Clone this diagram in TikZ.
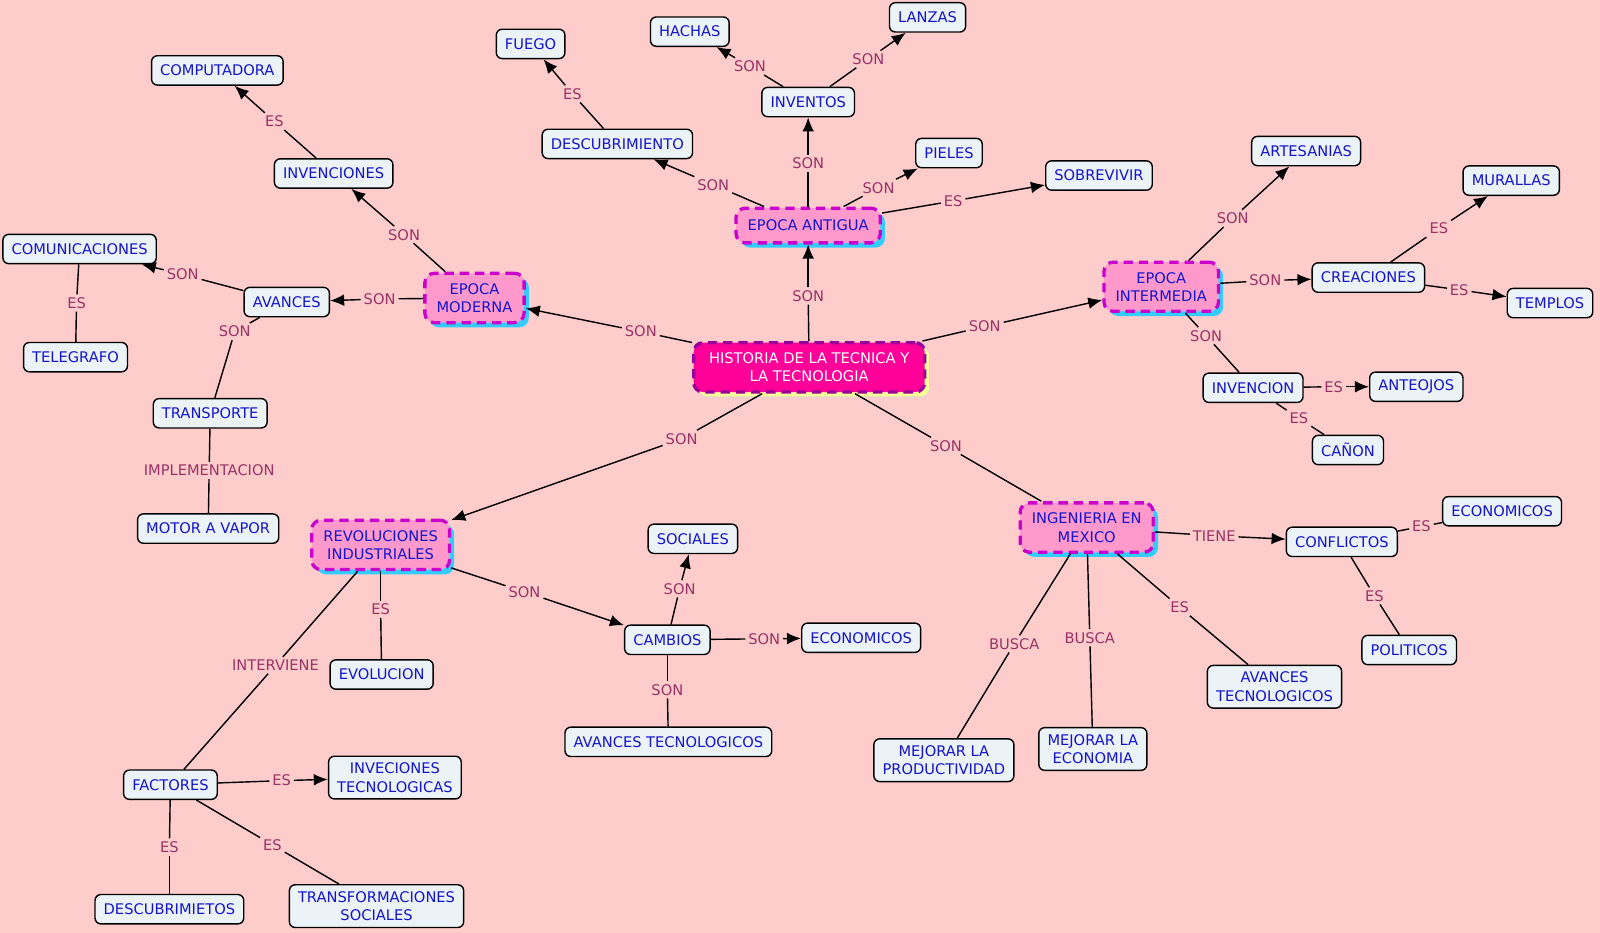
\documentclass[tikz,border=0pt]{standalone}
\usepackage{fontspec}
\setmainfont{DejaVu Sans}
\usepackage{xcolor}
\usepackage{tikz}
\usetikzlibrary{shapes,positioning,shadows,arrows.meta}
\definecolor{fondo}{RGB}{255,204,204}
\definecolor{caja}{RGB}{236,243,247}
\definecolor{azul}{RGB}{20,20,204}
\definecolor{enlace}{RGB}{153,51,102}
\definecolor{rosa}{RGB}{255,153,204}
\definecolor{borde}{RGB}{204,0,204}
\definecolor{celeste}{RGB}{51,204,255}
\definecolor{fucsia}{RGB}{255,0,153}
\definecolor{morado}{RGB}{153,0,153}
\definecolor{amarillo}{RGB}{255,255,153}
\tikzset{conc/.style={rectangle,rounded corners=5pt,draw=black,line width=1.2pt,fill=caja,text=azul,align=center,inner xsep=0.26cm,inner ysep=0.2cm,minimum height=0.88cm,font=\fontsize{12.5}{15.6}\selectfont}}
\tikzset{epoca/.style={conc,draw=borde,fill=rosa,line width=2.8pt,dash pattern=on 8pt off 5pt,rounded corners=8pt,inner xsep=0.35cm,inner ysep=0.3cm,minimum height=1.04cm,drop shadow={shadow xshift=4pt,shadow yshift=-4pt,fill=celeste,opacity=1}}}
\tikzset{raiz/.style={epoca,draw=morado,fill=fucsia,text=white,inner xsep=0.46cm,drop shadow={shadow xshift=4pt,shadow yshift=-4pt,fill=amarillo,opacity=1}}}
\tikzset{lnk/.style={text=enlace,inner sep=2pt,font=\fontsize{12.5}{15.6}\selectfont}}

\begin{document}
\begin{tikzpicture}[>={Latex[length=12pt,width=10pt]},x=0.0306cm,y=-0.0306cm,line width=1.2pt]
    \fill[fondo] (0,0) rectangle (1568,914);

    % conceptos principales
    \node[raiz] (hist)at (793,360) {HISTORIA DE LA TECNICA Y\\LA TECNOLOGIA};
    \node[epoca] (ant)at (792,221) {EPOCA ANTIGUA};
    \node[epoca] (mod)at (465,292) {EPOCA\\MODERNA};
    \node[epoca] (inter)at (1138,281) {EPOCA\\INTERMEDIA};
    \node[epoca] (rev)at (373,534) {REVOLUCIONES\\INDUSTRIALES};
    \node[epoca] (ing)at (1065,517) {INGENIERIA EN\\MEXICO};

    % epoca antigua
    \node[conc] (fuego)at (520,43) {FUEGO};
    \node[conc] (hachas)at (676,31) {HACHAS};
    \node[conc] (lanzas)at (909,17) {LANZAS};
    \node[conc] (inventos)at (792,100) {INVENTOS};
    \node[conc] (desc)at (605,141) {DESCUBRIMIENTO};
    \node[conc] (pieles)at (930,150) {PIELES};
    \node[conc] (sobr)at (1077,172) {SOBREVIVIR};

    % epoca moderna
    \node[conc] (comp)at (213,69) {COMPUTADORA};
    \node[conc] (invenc)at (327,170) {INVENCIONES};
    \node[conc] (comun)at (78,244) {COMUNICACIONES};
    \node[conc] (avan)at (281,296) {AVANCES};
    \node[conc] (teleg)at (74,350) {TELEGRAFO};
    \node[conc] (transp)at (206,405) {TRANSPORTE};
    \node[conc] (motor)at (204,518) {MOTOR A VAPOR};

    % epoca intermedia
    \node[conc] (artes)at (1280,148) {ARTESANIAS};
    \node[conc] (mural)at (1481,177) {MURALLAS};
    \node[conc] (creac)at (1341,272) {CREACIONES};
    \node[conc] (templ)at (1519,297) {TEMPLOS};
    \node[conc] (invcn)at (1228,380) {INVENCION};
    \node[conc] (anteo)at (1388,379) {ANTEOJOS};
    \node[conc] (canon)at (1321,441) {CAÑON};

    % ingenieria en mexico
    \node[conc] (econ)at (1472,501) {ECONOMICOS};
    \node[conc] (confl)at (1315,531) {CONFLICTOS};
    \node[conc] (polit)at (1381,637) {POLITICOS};
    \node[conc] (avtec)at (1249,673) {AVANCES\\TECNOLOGICOS};
    \node[conc] (mprod)at (925,745) {MEJORAR LA\\PRODUCTIVIDAD};
    \node[conc] (mecon)at (1071,734) {MEJORAR LA\\ECONOMIA};

    % revoluciones industriales
    \node[conc] (soc)at (679,528) {SOCIALES};
    \node[conc] (camb)at (654,627) {CAMBIOS};
    \node[conc] (econ2)at (844,625) {ECONOMICOS};
    \node[conc] (avtec2)at (655,727) {AVANCES TECNOLOGICOS};
    \node[conc] (evol)at (374,661) {EVOLUCION};
    \node[conc] (fact)at (167,769) {FACTORES};
    \node[conc] (invtec)at (387,762) {INVECIONES\\TECNOLOGICAS};
    \node[conc] (descub)at (166,891) {DESCUBRIMIETOS};
    \node[conc] (transf)at (369,888) {TRANSFORMACIONES\\SOCIALES};

    % palabras de enlace
    \node[lnk] (l1)at (792,290) {SON};
    \node[lnk] (l2)at (628,325) {SON};
    \node[lnk] (l3)at (965,320) {SON};
    \node[lnk] (l4)at (668,430) {SON};
    \node[lnk] (l5)at (927,437) {SON};
    \node[lnk] (l6)at (792,160) {SON};
    \node[lnk] (l7)at (699,181) {SON};
    \node[lnk] (l8)at (861,184) {SON};
    \node[lnk] (l9)at (934,197) {ES};
    \node[lnk] (l10)at (735,65) {SON};
    \node[lnk] (l11)at (851,58) {SON};
    \node[lnk] (l12)at (561,92) {ES};
    \node[lnk] (l13)at (396,230) {SON};
    \node[lnk] (l14)at (372,293) {SON};
    \node[lnk] (l15)at (269,119) {ES};
    \node[lnk] (l16)at (179,269) {SON};
    \node[lnk] (l17)at (230,325) {SON};
    \node[lnk] (l18)at (75,297) {ES};
    \node[lnk] (l19)at (205,461) {IMPLEMENTACION};
    \node[lnk] (l20)at (1208,214) {SON};
    \node[lnk] (l21)at (1240,275) {SON};
    \node[lnk] (l22)at (1182,329) {SON};
    \node[lnk] (l23)at (1410,224) {ES};
    \node[lnk] (l24)at (1430,284) {ES};
    \node[lnk] (l25)at (1307,379) {ES};
    \node[lnk] (l26)at (1273,410) {ES};
    \node[lnk] (l27)at (1190,525) {TIENE};
    \node[lnk] (l28)at (994,631) {BUSCA};
    \node[lnk] (l29)at (1068,625) {BUSCA};
    \node[lnk] (l30)at (1156,595) {ES};
    \node[lnk] (l31)at (1393,516) {ES};
    \node[lnk] (l32)at (1347,584) {ES};
    \node[lnk] (l33)at (514,580) {SON};
    \node[lnk] (l34)at (373,597) {ES};
    \node[lnk] (l35)at (270,652) {INTERVIENE};
    \node[lnk] (l36)at (666,577) {SON};
    \node[lnk] (l37)at (749,626) {SON};
    \node[lnk] (l38)at (654,676) {SON};
    \node[lnk] (l39)at (276,765) {ES};
    \node[lnk] (l40)at (166,830) {ES};
    \node[lnk] (l41)at (267,828) {ES};

    % conectores
    \draw [] (hist) to [] (l1);   \draw [->] (l1) to [] (ant);
    \draw [] (hist) to [] (l2);   \draw [->] (l2) to [] (mod);
    \draw [] (hist) to [] (l3);   \draw [->] (l3) to [] (inter);
    \draw [] (hist) to [] (l4);   \draw [->] (l4) to [] (rev);
    \draw [] (hist) to [] (l5);   \draw [] (l5) to [] (ing);

    \draw [] (ant) to [] (l6);    \draw [->] (l6) to [] (inventos);
    \draw [] (ant) to [] (l7);    \draw [->] (l7) to [] (desc);
    \draw [] (ant) to [] (l8);    \draw [->] (l8) to [] (pieles);
    \draw [] (ant) to [] (l9);    \draw [->] (l9) to [] (sobr);
    \draw [] (inventos) to [] (l10); \draw [->] (l10) to [] (hachas);
    \draw [] (inventos) to [] (l11); \draw [->] (l11) to [] (lanzas);
    \draw [] (desc) to [] (l12);  \draw [->] (l12) to [] (fuego);

    \draw [] (mod) to [] (l13);   \draw [->] (l13) to [] (invenc);
    \draw [] (mod) to [] (l14);   \draw [->] (l14) to [] (avan);
    \draw [] (invenc) to [] (l15); \draw [->] (l15) to [] (comp);
    \draw [] (avan) to [] (l16);  \draw [->] (l16) to [] (comun);
    \draw [] (avan) to [] (l17);  \draw [] (l17) to [] (transp);
    \draw [] (comun) to [] (l18); \draw [] (l18) to [] (teleg);
    \draw [] (transp) to [] (l19); \draw [] (l19) to [] (motor);

    \draw [] (inter) to [] (l20); \draw [->] (l20) to [] (artes);
    \draw [] (inter) to [] (l21); \draw [->] (l21) to [] (creac);
    \draw [] (inter) to [] (l22); \draw [] (l22) to [] (invcn);
    \draw [] (creac) to [] (l23); \draw [->] (l23) to [] (mural);
    \draw [] (creac) to [] (l24); \draw [->] (l24) to [] (templ);
    \draw [] (invcn) to [] (l25); \draw [->] (l25) to [] (anteo);
    \draw [] (invcn) to [] (l26); \draw [] (l26) to [] (canon);

    \draw [] (ing) to [] (l27);   \draw [->] (l27) to [] (confl);
    \draw [] (ing) to [] (l28);   \draw [] (l28) to [] (mprod);
    \draw [] (ing) to [] (l29);   \draw [] (l29) to [] (mecon);
    \draw [] (ing) to [] (l30);   \draw [] (l30) to [] (avtec);
    \draw [] (confl) to [] (l31); \draw [] (l31) to [] (econ);
    \draw [] (confl) to [] (l32); \draw [] (l32) to [] (polit);

    \draw [] (rev) to [] (l33);   \draw [->] (l33) to [] (camb);
    \draw [] (rev) to [] (l34);   \draw [] (l34) to [] (evol);
    \draw [] (rev) to [] (l35);   \draw [] (l35) to [] (fact);
    \draw [] (camb) to [] (l36);  \draw [->] (l36) to [] (soc);
    \draw [] (camb) to [] (l37);  \draw [->] (l37) to [] (econ2);
    \draw [] (camb) to [] (l38);  \draw [] (l38) to [] (avtec2);
    \draw [] (fact) to [] (l39);  \draw [->] (l39) to [] (invtec);
    \draw [] (fact) to [] (l40);  \draw [] (l40) to [] (descub);
    \draw [] (fact) to [] (l41);  \draw [] (l41) to [] (transf);
\end{tikzpicture}
\end{document}
